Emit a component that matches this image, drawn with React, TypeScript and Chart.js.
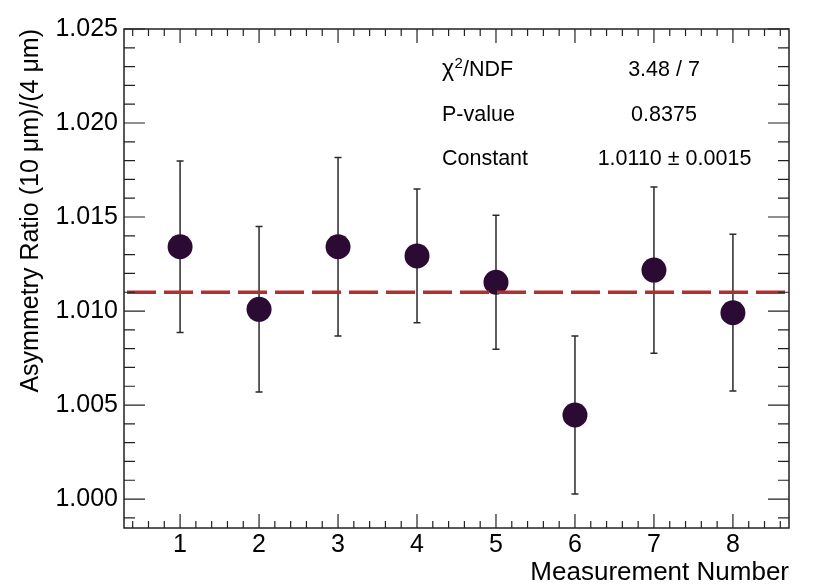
import { useEffect, useRef } from "react"
import { Chart, registerables } from "chart.js"

Chart.register(...registerables)

// measured values
const measurement = [1, 2, 3, 4, 5, 6, 7, 8]
const ratio = [1.01342, 1.01009, 1.01342, 1.01293, 1.01153, 1.00447, 1.01218, 1.00991]
const ratioErr = [0.00456, 0.0044, 0.00475, 0.00356, 0.00356, 0.0042, 0.00442, 0.00417]

// constant fit result
const fitConstant = 1.011

// axis ticks
const xTickValues = [1, 2, 3, 4, 5, 6, 7, 8]
const yTickValues = [1.0, 1.005, 1.01, 1.015, 1.02, 1.025]
const yTickLabels = ["1.000", "1.005", "1.010", "1.015", "1.020", "1.025"]

// fit box
const statsLabels = ["/NDF", "P-value", "Constant"]
const statsValues = ["3.48 / 7", "0.8375", "1.0110 \u00b1 0.0015"]

const X_MIN = 0.29
const X_MAX = 8.71
const Y_MIN = 0.99846
const Y_MAX = 1.025
const FONT = "'Liberation Sans', Arial, sans-serif"

// ROOT style frame with ticks pointing inward on all four sides
const framePlugin = {
  id: "frame",
  afterDatasetsDraw(chart: any) {
    const { ctx, chartArea: a, scales } = chart
    const xs = scales.x
    const ys = scales.y
    ctx.save()
    ctx.strokeStyle = "#222"
    ctx.lineWidth = 1.5
    ctx.strokeRect(a.left, a.top, a.right - a.left, a.bottom - a.top)
    ctx.lineWidth = 1.2
    ctx.beginPath()
    for (let i = 2; i <= 43; i++) {
      const v = i * 0.2
      if (v < X_MIN || v > X_MAX) continue
      const px = xs.getPixelForValue(v)
      const major = i % 5 === 0
      const len = major ? 14 : 7
      ctx.moveTo(px, a.bottom)
      ctx.lineTo(px, a.bottom - len)
      ctx.moveTo(px, a.top)
      ctx.lineTo(px, a.top + len)
    }
    for (let i = 998; i <= 1025; i++) {
      const v = i / 1000
      if (v < Y_MIN || v > Y_MAX + 1e-9) continue
      const py = ys.getPixelForValue(v)
      const major = i % 5 === 0
      const len = major ? 21 : 11
      ctx.moveTo(a.left, py)
      ctx.lineTo(a.left + len, py)
      ctx.moveTo(a.right, py)
      ctx.lineTo(a.right - len, py)
    }
    ctx.stroke()
    ctx.restore()
  },
}

const errorBarPlugin = {
  id: "errorBars",
  beforeDatasetsDraw(chart: any) {
    const { ctx, scales } = chart
    ctx.save()
    ctx.strokeStyle = "#2a2a2a"
    ctx.lineWidth = 1.5
    ctx.beginPath()
    measurement.forEach((m, i) => {
      const px = scales.x.getPixelForValue(m)
      const top = scales.y.getPixelForValue(ratio[i] + ratioErr[i])
      const bot = scales.y.getPixelForValue(ratio[i] - ratioErr[i])
      ctx.moveTo(px, top)
      ctx.lineTo(px, bot)
      ctx.moveTo(px - 3.5, top)
      ctx.lineTo(px + 3.5, top)
      ctx.moveTo(px - 3.5, bot)
      ctx.lineTo(px + 3.5, bot)
    })
    ctx.stroke()
    ctx.restore()
  },
}

const statsPlugin = {
  id: "stats",
  afterDraw(chart: any) {
    const { ctx, chartArea: a } = chart
    const rows = [76, 120.5, 165]
    const valueX = [540, 540, 550.5]
    ctx.save()
    ctx.fillStyle = "#000"
    ctx.textBaseline = "alphabetic"
    ctx.font = `21.5px ${FONT}`
    const lx = a.left + 318
    // chi-square with superscript
    ctx.textAlign = "left"
    ctx.font = `23px ${FONT}`
    ctx.fillText("\u03c7", lx, rows[0])
    const chiW = ctx.measureText("\u03c7").width
    ctx.font = `15px ${FONT}`
    ctx.fillText("2", lx + chiW + 0.5, rows[0] - 8)
    const twoW = ctx.measureText("2").width
    ctx.font = `21.5px ${FONT}`
    ctx.fillText(statsLabels[0], lx + chiW + twoW + 0.5, rows[0])
    ctx.fillText(statsLabels[1], lx, rows[1])
    ctx.fillText(statsLabels[2], lx, rows[2])
    ctx.textAlign = "center"
    statsValues.forEach((v, i) => {
      ctx.fillText(v, a.left + valueX[i], rows[i])
    })
    ctx.restore()
  },
}

const App = () => {
  const chartRef = useRef<HTMLCanvasElement>(null)
  const chartInstance = useRef<Chart | null>(null)

  useEffect(() => {
    document.body.style.margin = "0"
    if (!chartRef.current) return
    if (chartInstance.current) chartInstance.current.destroy()

    const ctx = chartRef.current.getContext("2d")
    if (!ctx) return

    Chart.defaults.font.family = FONT

    chartInstance.current = new Chart(ctx, {
      type: "scatter",
      data: {
        datasets: [
          {
            type: "line",
            label: "Fit",
            data: [
              { x: X_MIN, y: fitConstant },
              { x: X_MAX, y: fitConstant },
            ],
            borderColor: "#b03030",
            borderWidth: 3.3,
            borderDash: [29, 8],
            borderDashOffset: -3,
            pointRadius: 0,
            order: 1,
          } as any,
          {
            label: "Asymmetry ratio",
            data: measurement.map((m, i) => ({ x: m, y: ratio[i] })),
            backgroundColor: "#2b0a34",
            borderWidth: 0,
            pointRadius: 12.5,
            order: 2,
          },
        ],
      },
      options: {
        responsive: false,
        animation: false,
        layout: { padding: { top: 29, right: 41, left: 0, bottom: 0 } },
        plugins: {
          legend: { display: false },
          tooltip: { enabled: false },
        },
        scales: {
          x: {
            type: "linear",
            min: X_MIN,
            max: X_MAX,
            afterBuildTicks: (scale: any) => {
              scale.ticks = xTickValues.map((v) => ({ value: v }))
            },
            afterFit: (scale: any) => {
              scale.height = 59
            },
            grid: { display: false, drawTicks: false, tickLength: 0 },
            border: { display: false },
            ticks: {
              color: "#000",
              font: { size: 25 },
              padding: 2,
              maxRotation: 0,
              callback: (v: any) => String(v),
            },
            title: {
              display: true,
              text: "Measurement Number",
              align: "end",
              color: "#000",
              font: { size: 26, lineHeight: 1.1 },
              padding: { top: 0, bottom: 0 },
            },
          },
          y: {
            type: "linear",
            min: Y_MIN,
            max: Y_MAX,
            afterBuildTicks: (scale: any) => {
              scale.ticks = yTickValues.map((v) => ({ value: v }))
            },
            afterFit: (scale: any) => {
              scale.width = 124
            },
            grid: { display: false, drawTicks: false, tickLength: 0 },
            border: { display: false },
            ticks: {
              color: "#000",
              font: { size: 25 },
              padding: 6,
              callback: (_v: any, i: number) => yTickLabels[i],
            },
            title: {
              display: true,
              text: "Asymmetry Ratio (10 \u03bcm)/(4 \u03bcm)",
              align: "end",
              color: "#000",
              font: { size: 25, lineHeight: 1.1 },
              padding: { top: 17, bottom: 0 },
            },
          },
        },
      },
      plugins: [errorBarPlugin, framePlugin, statsPlugin],
    })

    return () => {
      if (chartInstance.current) {
        chartInstance.current.destroy()
        chartInstance.current = null
      }
    }
  }, [])

  return (
    <div style={{ width: 830, height: 587, background: "#fff" }}>
      <canvas ref={chartRef} width={830} height={587} />
    </div>
  )
}

export default App
